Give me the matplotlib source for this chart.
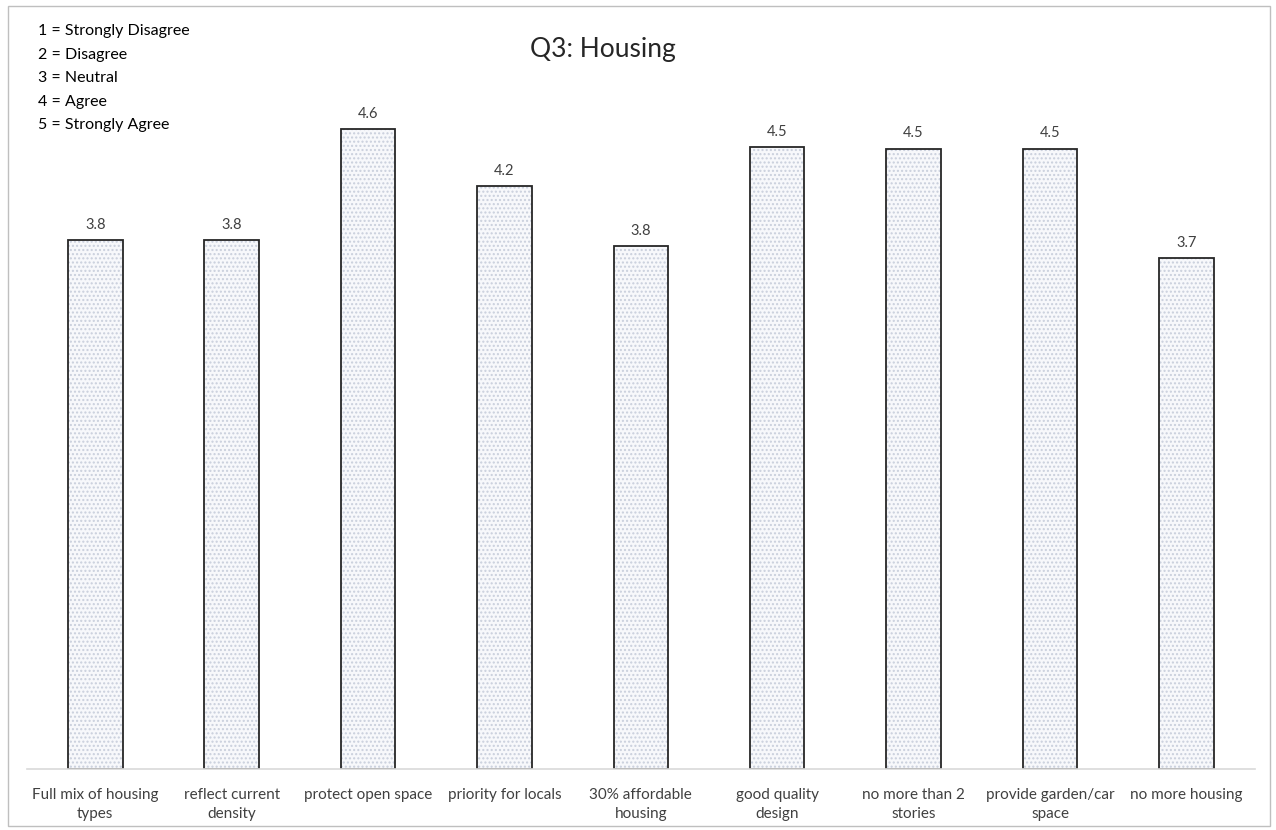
import matplotlib.pyplot as plt
from matplotlib.patches import Rectangle

plt.rcParams['font.family'] = ['Lato', 'DejaVu Sans']

# data
categories = [
    "Full mix of housing\ntypes",
    "reflect current\ndensity",
    "protect open space",
    "priority for locals",
    "30% affordable\nhousing",
    "good quality\ndesign",
    "no more than 2\nstories",
    "provide garden/car\nspace",
    "no more housing",
]
scores = [3.80, 3.80, 4.60, 4.19, 3.76, 4.47, 4.46, 4.46, 3.67]
scale_notes = [
    "1 = Strongly Disagree",
    "2 = Disagree",
    "3 = Neutral",
    "4 = Agree",
    "5 = Strongly Agree",
]

fig = plt.figure(figsize=(12.76, 8.3), dpi=100)
ax = fig.add_axes([0.0212, 0.0735, 0.962, 0.838])

x = range(len(categories))
# dotted fill, then dark outline on top
ax.bar(x, scores, width=0.4, facecolor='#f7f8fb', edgecolor='#c9cfdc',
       hatch='....', linewidth=0)
bars = ax.bar(x, scores, width=0.4, facecolor='none', edgecolor='#262626',
              linewidth=1.3)

for b, v in zip(bars, scores):
    ax.annotate(f"{v:.1f}", (b.get_x() + b.get_width() / 2, v),
                xytext=(0, 6), textcoords='offset points',
                ha='center', va='bottom', fontsize=10.5, color='#404040')

ax.set_xlim(-0.5, len(categories) - 0.5)
ax.set_ylim(0, 5.0)
ax.set_xticks(list(x))
ax.set_xticklabels(categories, fontsize=11, color='#404040', linespacing=1.45)
ax.tick_params(axis='x', length=0, pad=14)
ax.set_yticks([])
for s in ['top', 'right', 'left']:
    ax.spines[s].set_visible(False)
ax.spines['bottom'].set_color('#d9d9d9')
ax.spines['bottom'].set_linewidth(1.2)

fig.text(603 / 1276, 1 - 50 / 830, "Q3: Housing", ha='center', va='center',
         fontsize=19, color='#262626')

for i, note in enumerate(scale_notes):
    fig.text(38 / 1276, 1 - (31 + i * 23.5) / 830, note, ha='left',
             va='center', fontsize=11.5, color='#000000')

# outer frame
fig.patches.append(Rectangle((8 / 1276, 4 / 830), 1262 / 1276, 820 / 830,
                             transform=fig.transFigure, fill=False,
                             edgecolor='#bfbfbf', linewidth=1))

fig.savefig("out.png", dpi=100)
plt.close()
